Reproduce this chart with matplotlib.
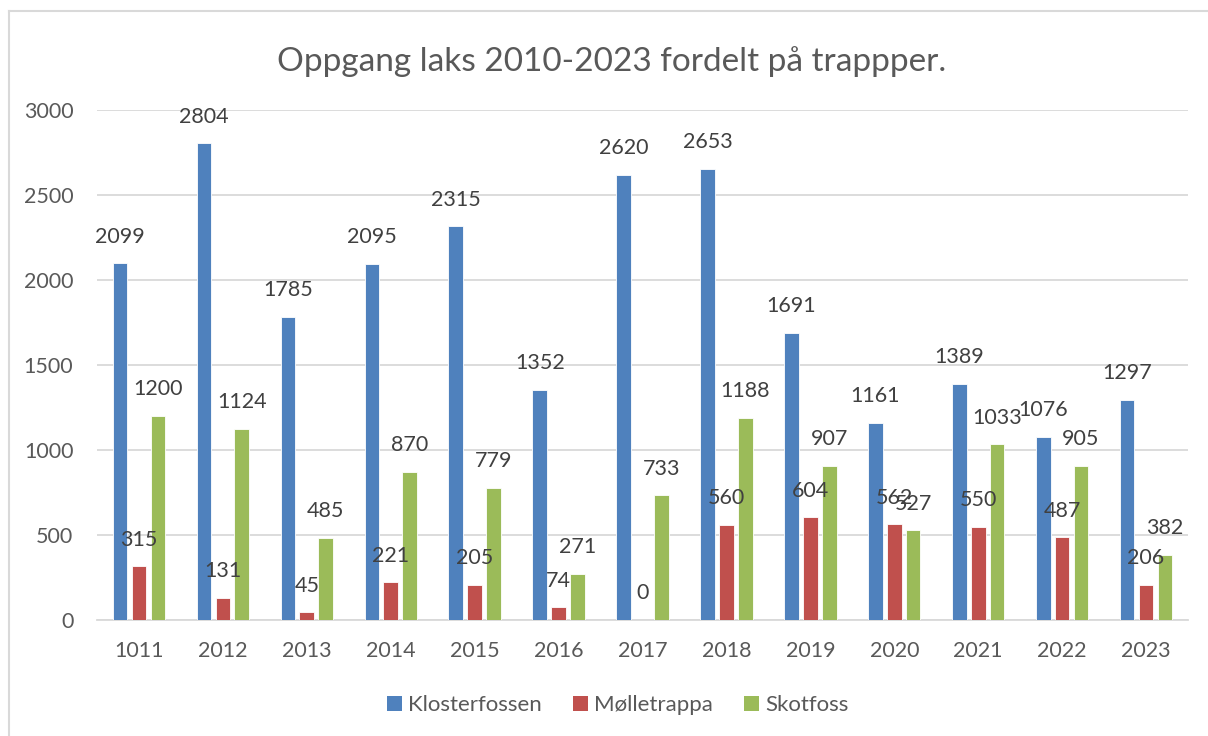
import numpy as np
import matplotlib.pyplot as plt
from matplotlib.lines import Line2D
from matplotlib.patches import Patch

plt.rcParams['font.family'] = ['Lato', 'DejaVu Sans']

aar = ['1011', '2012', '2013', '2014', '2015', '2016', '2017',
       '2018', '2019', '2020', '2021', '2022', '2023']
klosterfossen = [2099, 2804, 1785, 2095, 2315, 1352, 2620,
                 2653, 1691, 1161, 1389, 1076, 1297]
molletrappa = [315, 131, 45, 221, 205, 74, 0,
               560, 604, 562, 550, 487, 206]
skotfoss = [1200, 1124, 485, 870, 779, 271, 733,
            1188, 907, 527, 1033, 905, 382]

serier = ['Klosterfossen', 'Mølletrappa', 'Skotfoss']
farger = ['#4F81BD', '#C0504D', '#9BBB59']

fig = plt.figure(figsize=(12.08, 7.36), dpi=100)
ax = fig.add_axes([97 / 1208, 1 - 620 / 736, 1091 / 1208, 510 / 736])

x = np.arange(len(aar))
bredde = 0.175
steg = 0.225
for i, (navn, verdier, farge) in enumerate(zip(serier, [klosterfossen, molletrappa, skotfoss], farger)):
    pos = x + (i - 1) * steg
    ax.bar(pos, verdier, width=bredde, color=farge, edgecolor='white', linewidth=0.6, zorder=3)
    for px, v in zip(pos, verdier):
        ax.annotate(str(v), (px, v), xytext=(0, 12), textcoords='offset points',
                    ha='center', va='bottom', fontsize=15.5, color='#404040', zorder=4)

ax.set_xlim(-0.5, len(aar) - 0.5)
ax.set_ylim(0, 3000)
ax.set_yticks(range(0, 3001, 500))
ax.set_xticks(x)
ax.set_xticklabels(aar)
ax.tick_params(axis='both', length=0, labelsize=15.5, labelcolor='#595959')
ax.tick_params(axis='x', pad=15)
ax.tick_params(axis='y', pad=17)
ax.grid(axis='y', color='#D9D9D9', linewidth=1.3, zorder=0)
for s in ['top', 'right', 'left']:
    ax.spines[s].set_visible(False)
ax.spines['bottom'].set_color('#D9D9D9')
ax.spines['bottom'].set_linewidth(1.3)

fig.text(612 / 1208, 1 - 62 / 736, 'Oppgang laks 2010-2023 fordelt på trappper.',
         ha='center', va='center', fontsize=24, color='#595959')

handles = [Patch(facecolor=f, edgecolor='none') for f in farger]
fig.legend(handles, serier, loc='center', bbox_to_anchor=(618 / 1208, 1 - 705 / 736),
           ncol=3, frameon=False, fontsize=16, labelcolor='#595959',
           handlelength=0.65, handleheight=0.65, handletextpad=0.3, columnspacing=1.4)

# ramme rundt diagrammet
fig.add_artist(Line2D([9 / 1208, 9 / 1208], [0, 1 - 11 / 736], transform=fig.transFigure,
                      color='#D9D9D9', linewidth=1.5))
fig.add_artist(Line2D([9 / 1208, 1], [1 - 11 / 736, 1 - 11 / 736], transform=fig.transFigure,
                      color='#D9D9D9', linewidth=1.5))

fig.savefig('out.png', dpi=100)
